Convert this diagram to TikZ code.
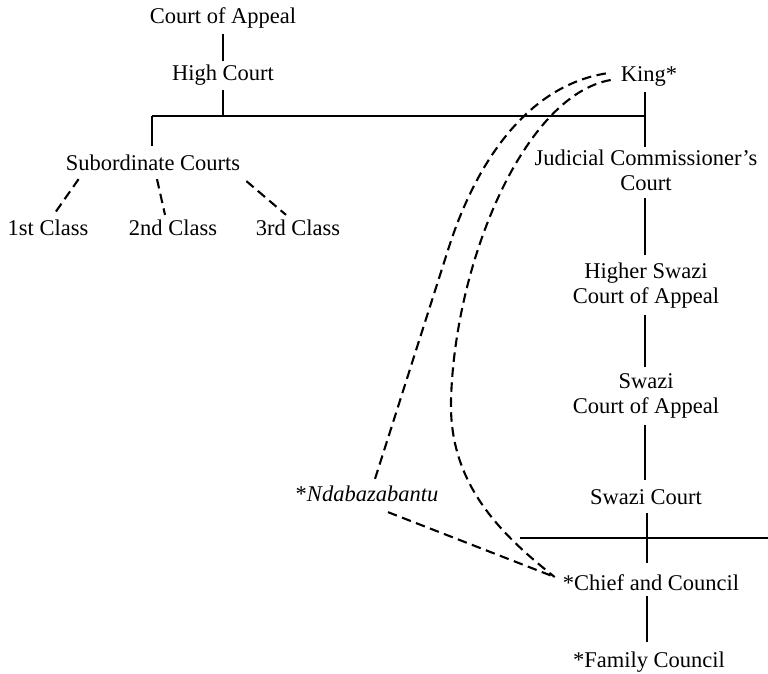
\documentclass[tikz,border=0pt]{standalone}
\usepackage{fontspec}
\setmainfont{Liberation Serif}
\usetikzlibrary{calc}
\begin{document}
\begin{tikzpicture}[x=1pt,y=-1pt,
  every node/.style={font=\fontsize{22.5}{25}\selectfont, inner sep=0pt, align=center},
  solidline/.style={line width=2.2pt},
  dashline/.style={line width=2.1pt, dash pattern=on 9.5pt off 5.5pt}]
\useasboundingbox (0,0) rectangle (768,673);
% nodes
\node (coa) at (223,18) {Court of Appeal};
\node (hc) at (223,75) {High Court};
\node (sub) at (153,163) {Subordinate Courts};
\node (c1) at (48,228) {1st Class};
\node (c2) at (173,228) {2nd Class};
\node (c3) at (298,228) {3rd Class};
\node (king) at (649,76) {King*};
\node (jc) at (646,170) {Judicial Commissioner's\\Court};
\node (hsca) at (646,286) {Higher Swazi\\Court of Appeal};
\node (sca) at (646,396) {Swazi\\Court of Appeal};
\node (sc) at (646,497) {Swazi Court};
\node (cc) at (651,583) {*Chief and Council};
\node (fc) at (649,662) {*Family Council};
\node (nd) at (367,494) {*\textit{Ndabazabantu}};
% coordinates
\coordinate (barL) at (152,116);
\coordinate (barR) at (645,116);
\coordinate (hl1) at (520,538);
\coordinate (hl2) at (768,538);
\coordinate (ccin) at ($(cc.west)+(-8,-6)$);
% solid connectors
\draw[solidline] ($(coa.south)+(0,5)$) -- ($(coa.south |- hc.north)+(0,-4)$);
\draw[solidline] ($(hc.south)+(0,5)$) -- (hc.south |- barL);
\draw[solidline] (barL) -- (barR);
\draw[solidline] (barL) -- ($(barL |- sub.north)+(0,-9)$);
\draw[solidline] ($(barR |- king.south)+(0,6)$) -- ($(barR |- jc.north)+(0,-2)$);
\draw[solidline] ($(barR |- jc.south)+(0,7)$) -- ($(barR |- hsca.north)+(0,-8)$);
\draw[solidline] ($(barR |- hsca.south)+(0,6)$) -- ($(barR |- sca.north)+(0,-6)$);
\draw[solidline] ($(barR |- sca.south)+(0,6)$) -- ($(barR |- sc.north)+(0,-9)$);
\draw[solidline] ($(sc.south)+(1,8)$) -- ($(sc.south |- cc.north)+(1,-12)$);
\draw[solidline] (hl1) -- (hl2);
\draw[solidline] ($(cc.south)+(-4,5)$) -- ($(cc.south |- fc.north)+(-4,-10)$);
% dashed connectors
\draw[dashline] ($(sub.south west)+(13,8)$) -- ($(c1.north)+(7,-7)$);
\draw[dashline] ($(sub.south)+(4,8)$) -- ($(c2.north)+(-8,-5)$);
\draw[dashline] ($(sub.south east)+(6,10)$) -- ($(c3.north)+(-12,-5)$);
\draw[dashline] ($(nd.south)+(21,10)$) -- (ccin);
\draw[dashline] ($(nd.north)+(8,-7)$) -- (448,250) .. controls (470,180) and (518,86) .. ($(king.west)+(-12,-3)$);
\draw[dashline] ($(king.west)+(-10,4)$) .. controls (525,95) and (455,260) .. (451,400) .. controls (449,480) and (495,530) .. (ccin);
\end{tikzpicture}
\end{document}
